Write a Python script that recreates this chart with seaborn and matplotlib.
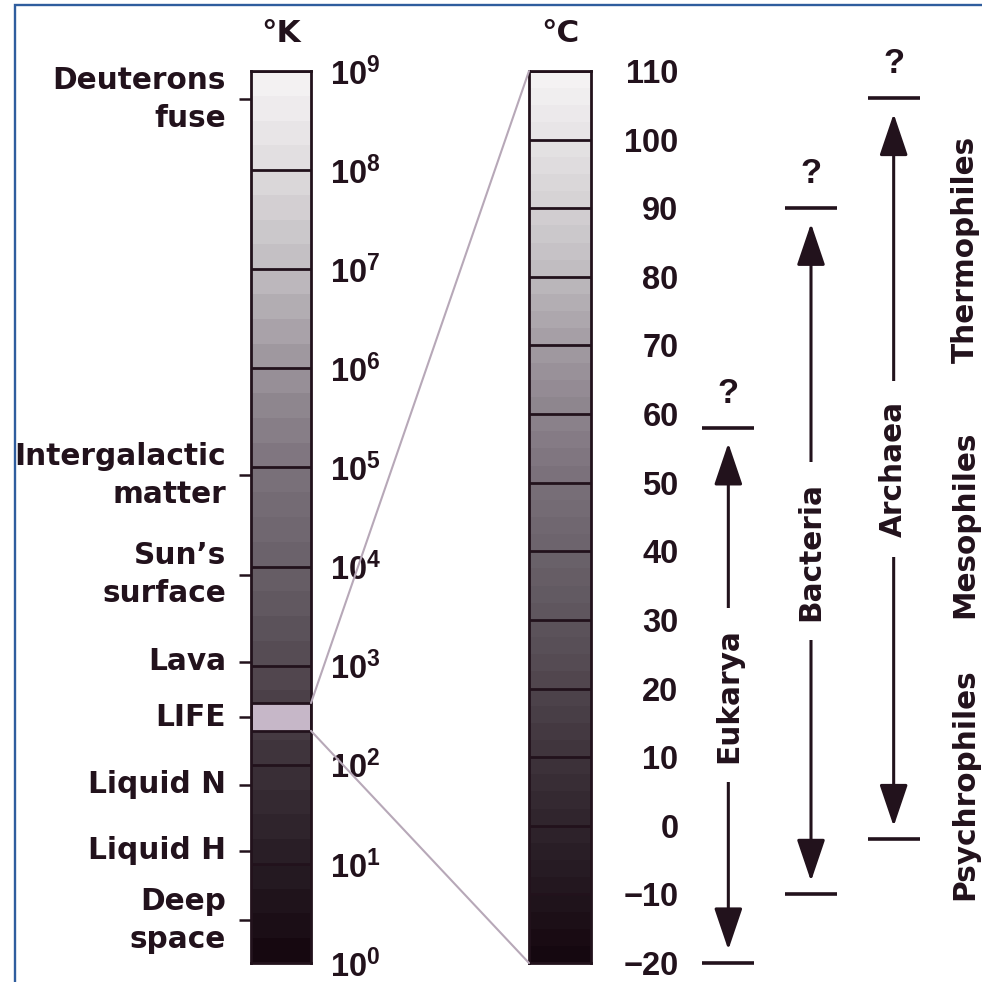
import numpy as np
import matplotlib
matplotlib.use("Agg")
import matplotlib.pyplot as plt
from matplotlib.patches import ConnectionPatch, Rectangle
from matplotlib.transforms import blended_transform_factory
import seaborn as sns

# ---------------------------------------------------------------- data
kelvin_decades = [0, 1, 2, 3, 4, 5, 6, 7, 8, 9]          # log10 of temperature in K
landmark_names = ["Deuterons\nfuse", "Atomic\nexplosion", "Intergalactic\nmatter",
                  "Sun\u2019s\nsurface", "Lava", "LIFE", "Liquid N", "Liquid H",
                  "Deep\nspace"]
landmark_kelvin = [5.2e8, 1.0e7, 8.3e4, 8.3e3, 1.1e3, 300.0, 63.0, 13.5, 2.7]
life_band_kelvin = [220.0, 420.0]                          # zoomed part of the K scale

celsius_ticks = [-20, -10, 0, 10, 20, 30, 40, 50, 60, 70, 80, 90, 100, 110]

domains = ["Eukarya", "Bacteria", "Archaea"]
domain_min_c = [-20, -10, -2]
domain_max_c = [58, 90, 106]

groups = ["Psychrophiles", "Mesophiles", "Thermophiles"]
group_center_c = [6, 44, 84]

# ---------------------------------------------------------------- style
INK = "#22121c"
LINK = "#b7a8b8"
LIFE_FILL = "#c6b7c8"
FRAME = "#2f5d9e"
WORD_FONT = ["DejaVu Sans"]
NUM_FONT = ["Liberation Sans", "DejaVu Sans"]

sns.set_theme(style="white")
plt.rcParams["font.family"] = WORD_FONT
plt.rcParams["font.weight"] = "bold"
plt.rcParams["mathtext.fontset"] = "custom"
for key in ("rm", "it", "bf", "sf"):
    plt.rcParams[f"mathtext.{key}"] = "Liberation Sans:bold"

# white at the hot end, near black at the cold end
shade = sns.blend_palette(["#f6f4f5", "#dedbdd", "#c0bcc0", "#9a929a", "#7c727c",
                           "#686068", "#544a52", "#3c3139", "#271c24", "#14060e"],
                          as_cmap=True)

W = H = 982
fig = plt.figure(figsize=(W / 100, H / 100), dpi=100)
fig.patch.set_facecolor("white")


def px_box(x0, y0, x1, y1):
    """Pixel box (origin top-left) -> figure-fraction rect."""
    return [x0 / W, 1 - y1 / H, (x1 - x0) / W, (y1 - y0) / H]


axK = fig.add_axes(px_box(251, 71, 311, 963))
axC = fig.add_axes(px_box(529, 71, 591, 963))
axD = fig.add_axes(px_box(687, 71, 935, 963))

WORD_SIZE = 21.3
NUM_SIZE = 23.5

# ---------------------------------------------------------------- Kelvin bar
axK.set_yscale("log")
lo_k, hi_k = 10.0 ** kelvin_decades[0], 10.0 ** kelvin_decades[-1]
k_edges = np.logspace(kelvin_decades[0], kelvin_decades[-1], 4 * (len(kelvin_decades) - 1) + 1)
k_mid = (np.log10(k_edges[:-1]) + np.log10(k_edges[1:])) / 2
k_vals = 1 - (k_mid - kelvin_decades[0]) / (kelvin_decades[-1] - kelvin_decades[0])
axK.pcolormesh([0, 1], k_edges, k_vals[:, None], cmap=shade, vmin=0, vmax=1,
               shading="flat", zorder=1)
axK.axhspan(life_band_kelvin[0], life_band_kelvin[1], facecolor=LIFE_FILL,
            edgecolor=INK, lw=2, zorder=3)
axK.set_xlim(0, 1)
axK.set_ylim(lo_k, hi_k)
axK.set_xticks([])
axK.set_yticks([10.0 ** d for d in kelvin_decades],
               labels=[f"$10^{{{d}}}$" for d in kelvin_decades])
axK.set_yticks(landmark_kelvin, labels=landmark_names, minor=True)
axK.tick_params(axis="y", which="major", left=False, right=False, labelleft=False,
                labelright=True, length=0, pad=14, labelsize=NUM_SIZE, labelcolor=INK)
axK.tick_params(axis="y", which="minor", left=True, right=False, labelleft=True,
                labelright=False, length=8.6, width=1.8, color=INK, pad=9.4,
                labelsize=WORD_SIZE, labelcolor=INK)
for lab in axK.get_yticklabels(minor=True):
    lab.set_linespacing(1.4)
    lab.set_verticalalignment("center")
axK.set_axisbelow(False)
axK.grid(True, which="major", axis="y", color=INK, lw=2)
axK.grid(False, which="minor")
axK.set_title("\u00b0K", pad=21, fontsize=WORD_SIZE + 1, color=INK, fontweight="bold")

# ---------------------------------------------------------------- Celsius bar
c_lo, c_hi = celsius_ticks[0], celsius_ticks[-1]
c_edges = np.linspace(c_lo, c_hi, 4 * (len(celsius_ticks) - 1) + 1)
c_mid = (c_edges[:-1] + c_edges[1:]) / 2
c_vals = (c_hi - c_mid) / (c_hi - c_lo)
axC.pcolormesh([0, 1], c_edges, c_vals[:, None], cmap=shade, vmin=0, vmax=1,
               shading="flat", zorder=1)
axC.set_xlim(0, 1)
axC.set_ylim(c_lo, c_hi)
axC.set_xticks([])
axC.set_yticks(celsius_ticks, labels=[str(t).replace("-", "\u2212") for t in celsius_ticks])
axC.tick_params(axis="y", which="major", left=False, right=False, labelleft=False,
                labelright=True, length=0, pad=63, labelsize=NUM_SIZE, labelcolor=INK,
                labelfontfamily=NUM_FONT)
for lab in axC.get_yticklabels():
    lab.set_horizontalalignment("right")
axC.set_axisbelow(False)
axC.grid(True, which="major", axis="y", color=INK, lw=2)
axC.set_title("\u00b0C", pad=21, fontsize=WORD_SIZE + 1, color=INK, fontweight="bold")

for ax in (axK, axC):
    for sp in ax.spines.values():
        sp.set_visible(True)
        sp.set_color(INK)
        sp.set_linewidth(2)
        sp.set_zorder(4)

# ---------------------------------------------------------------- zoom links
for kv, cv in ((life_band_kelvin[1], c_hi), (life_band_kelvin[0], c_lo)):
    link = ConnectionPatch(
        xyA=(1, kv), coordsA=blended_transform_factory(axK.transAxes, axK.transData),
        xyB=(0, cv), coordsB=blended_transform_factory(axC.transAxes, axC.transData),
        color=LINK, lw=1.5, zorder=0.5)
    fig.add_artist(link)

# ---------------------------------------------------------------- domain ranges
axD.set_xlim(0, 3)
axD.set_ylim(c_lo, c_hi)
axD.axis("off")
xs = np.arange(len(domains)) + 0.5
half = 0.315
axD.hlines(domain_max_c, xs - half, xs + half, color=INK, lw=2.6, clip_on=False)
axD.hlines(domain_min_c, xs - half, xs + half, color=INK, lw=2.6, clip_on=False)
for x, lo, hi, name in zip(xs, domain_min_c, domain_max_c, domains):
    axD.annotate("", xy=(x, hi), xytext=(x, lo),
                 arrowprops=dict(arrowstyle="<|-|>,head_length=26,head_width=8.8",
                                 color=INK, lw=2.2, shrinkA=9.5, shrinkB=11,
                                 mutation_scale=1))
    axD.text(x, (lo + hi) / 2, name, rotation=90, ha="center", va="center",
             fontsize=WORD_SIZE, color=INK,
             bbox=dict(facecolor="white", edgecolor="none", pad=14), zorder=5)
    axD.annotate("?", xy=(x, hi), xytext=(0, 25), textcoords="offset points",
                 ha="center", va="center", fontsize=25, color=INK,
                 family=NUM_FONT)

# temperature classes along the right edge
for name, yc in zip(groups, group_center_c):
    axD.text(3.19, yc, name, rotation=90, ha="left", va="center",
             fontsize=WORD_SIZE, color=INK, clip_on=False)

# outer frame
fig.add_artist(Rectangle((15 / W, -0.05), 1.2, 1.05 - 5 / H, transform=fig.transFigure,
                         fill=False, edgecolor=FRAME, lw=1.7))

fig.savefig("out.png", dpi=100, facecolor="white")
